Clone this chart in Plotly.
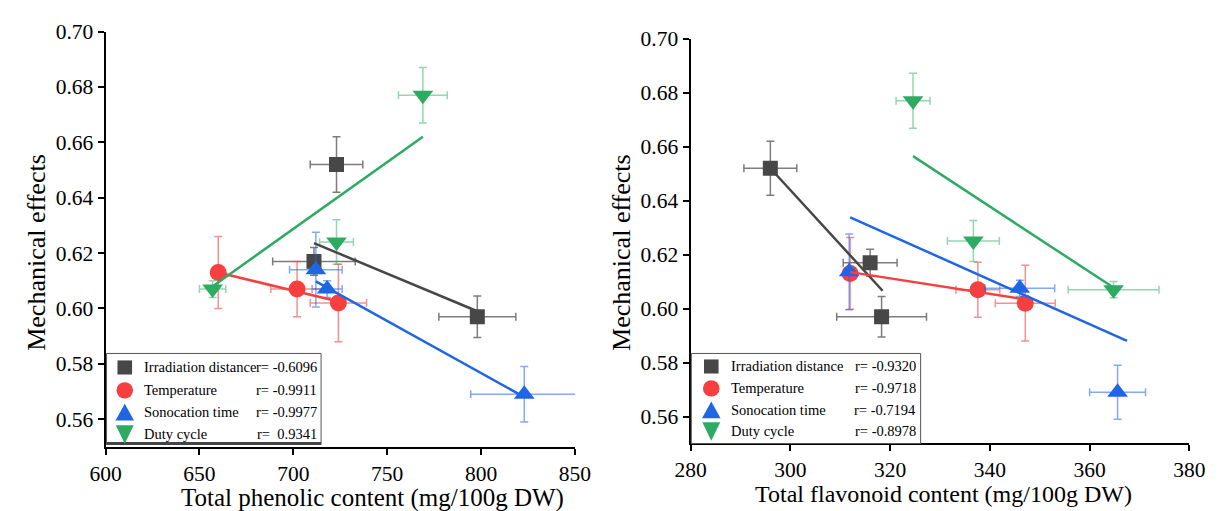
import plotly.graph_objects as go

W, H = 1220, 511
FONT = "Liberation Serif"

series_names = ["Irradiation distance", "Temperature", "Sonocation time", "Duty cycle"]

# ---- Left panel: total phenolic content ----
tpc_irr_x = [723, 711, 798]
tpc_irr_y = [0.652, 0.617, 0.597]
tpc_irr_xerr = [14, 22, 20.5]
tpc_irr_yerr = [0.010, 0.005, 0.0075]

tpc_temp_x = [660, 702, 724]
tpc_temp_y = [0.613, 0.607, 0.602]
tpc_temp_xerr = [3, 14, 15]
tpc_temp_yerr = [0.013, 0.010, 0.014]

tpc_sono_x = [712, 718, 823]
tpc_sono_y = [0.614, 0.607, 0.569]
tpc_sono_xerr = [14, 8, 28.5]
tpc_sono_yerr = [0.0135, 0.003, 0.010]

tpc_duty_x = [657, 723, 769]
tpc_duty_y = [0.607, 0.624, 0.677]
tpc_duty_xerr = [7, 9, 13]
tpc_duty_yerr = [0.003, 0.008, 0.010]

tpc_fit_irr_x = [711, 798]
tpc_fit_irr_y = [0.6236, 0.599]
tpc_fit_temp_x = [660, 724]
tpc_fit_temp_y = [0.6130, 0.6025]
tpc_fit_sono_x = [712, 823]
tpc_fit_sono_y = [0.6098, 0.5680]
tpc_fit_duty_x = [656, 769]
tpc_fit_duty_y = [0.6075, 0.6620]

tpc_r = ["r= -0.6096", "r= -0.9911", "r= -0.9977", "r=  0.9341"]

# ---- Right panel: total flavonoid content ----
tfc_irr_x = [296, 316, 318.3]
tfc_irr_y = [0.652, 0.617, 0.597]
tfc_irr_xerr = [5.3, 5.4, 9]
tfc_irr_yerr = [0.010, 0.005, 0.0075]

tfc_temp_x = [312, 337.6, 347.1]
tfc_temp_y = [0.613, 0.607, 0.602]
tfc_temp_xerr = [1, 4.4, 6]
tfc_temp_yerr = [0.0133, 0.0102, 0.014]

tfc_sono_x = [311.8, 346, 365.6]
tfc_sono_y = [0.6136, 0.6075, 0.569]
tfc_sono_xerr = [1, 7, 5.6]
tfc_sono_yerr = [0.014, 0.003, 0.010]

tfc_duty_x = [324.6, 336.7, 364.8]
tfc_duty_y = [0.677, 0.625, 0.607]
tfc_duty_xerr = [3.4, 5.2, 9.1]
tfc_duty_yerr = [0.0102, 0.0076, 0.003]

tfc_fit_irr_x = [296, 318.5]
tfc_fit_irr_y = [0.652, 0.6066]
tfc_fit_temp_x = [312, 347.5]
tfc_fit_temp_y = [0.6135, 0.6033]
tfc_fit_sono_x = [312, 367.5]
tfc_fit_sono_y = [0.6338, 0.588]
tfc_fit_duty_x = [324.6, 365]
tfc_fit_duty_y = [0.6565, 0.6075]

tfc_r = ["r= -0.9320", "r= -0.9718", "r= -0.7194", "r= -0.8978"]

# ---- styles ----
marker_colors = ["#474747", "#f5403f", "#1f66e6", "#2eab62"]
err_colors = ["rgba(80,80,80,0.75)", "rgba(240,70,70,0.6)", "rgba(30,100,230,0.55)", "rgba(46,171,98,0.5)"]
symbols = ["square", "circle", "triangle-up", "triangle-down"]
sizes = [15, 17, 18, 18]


def px(x):
    return x / W


def py(y):
    return 1 - y / H


fig = go.Figure()

panels = [
    dict(xa="x", ya="y",
         pts=[(tpc_irr_x, tpc_irr_y, tpc_irr_xerr, tpc_irr_yerr),
              (tpc_temp_x, tpc_temp_y, tpc_temp_xerr, tpc_temp_yerr),
              (tpc_sono_x, tpc_sono_y, tpc_sono_xerr, tpc_sono_yerr),
              (tpc_duty_x, tpc_duty_y, tpc_duty_xerr, tpc_duty_yerr)],
         fits=[(tpc_fit_irr_x, tpc_fit_irr_y), (tpc_fit_temp_x, tpc_fit_temp_y),
               (tpc_fit_sono_x, tpc_fit_sono_y), (tpc_fit_duty_x, tpc_fit_duty_y)]),
    dict(xa="x2", ya="y2",
         pts=[(tfc_irr_x, tfc_irr_y, tfc_irr_xerr, tfc_irr_yerr),
              (tfc_temp_x, tfc_temp_y, tfc_temp_xerr, tfc_temp_yerr),
              (tfc_sono_x, tfc_sono_y, tfc_sono_xerr, tfc_sono_yerr),
              (tfc_duty_x, tfc_duty_y, tfc_duty_xerr, tfc_duty_yerr)],
         fits=[(tfc_fit_irr_x, tfc_fit_irr_y), (tfc_fit_temp_x, tfc_fit_temp_y),
               (tfc_fit_sono_x, tfc_fit_sono_y), (tfc_fit_duty_x, tfc_fit_duty_y)]),
]

for p in panels:
    for i, (xs, ys, xe, ye) in enumerate(p["pts"]):
        fig.add_trace(go.Scatter(
            x=xs, y=ys, mode="markers", name=series_names[i], showlegend=False,
            xaxis=p["xa"], yaxis=p["ya"],
            marker=dict(symbol=symbols[i], size=sizes[i], color=marker_colors[i], line=dict(width=0)),
            error_x=dict(type="data", array=xe, color=err_colors[i], thickness=1.5, width=4),
            error_y=dict(type="data", array=ye, color=err_colors[i], thickness=1.5, width=4),
        ))
    for i, (fx, fy) in enumerate(p["fits"]):
        fig.add_trace(go.Scatter(
            x=fx, y=fy, mode="lines", showlegend=False, xaxis=p["xa"], yaxis=p["ya"],
            line=dict(color=marker_colors[i], width=2.5),
        ))

axis_common = dict(
    showline=True, linecolor="black", linewidth=2, mirror=False,
    ticks="outside", ticklen=6, tickwidth=2, tickcolor="black",
    showgrid=False, zeroline=False,
    tickfont=dict(family=FONT, size=21.5, color="black"),
)

fig.update_layout(
    width=W, height=H,
    margin=dict(l=0, r=0, t=0, b=0),
    paper_bgcolor="white", plot_bgcolor="white",
    showlegend=False,
    font=dict(family=FONT, color="black"),
    xaxis=dict(domain=[px(92), px(574)], range=[600, 850], dtick=50, tick0=600, anchor="y", **axis_common),
    yaxis=dict(domain=[py(445.5), py(21)], range=[0.55, 0.70], tickvals=[0.56, 0.58, 0.60, 0.62, 0.64, 0.66, 0.68, 0.70],
               tickformat=".2f", anchor="x", **axis_common),
    xaxis2=dict(domain=[px(692.7), px(1205)], range=[280, 380], dtick=20, tick0=280, anchor="y2", **axis_common),
    yaxis2=dict(domain=[py(442), py(28.3)], range=[0.55, 0.70], tickvals=[0.56, 0.58, 0.60, 0.62, 0.64, 0.66, 0.68, 0.70],
                tickformat=".2f", anchor="x2", **axis_common),
)

annotations = []
shapes = []

# axis titles
annotations.append(dict(text="Total phenolic content (mg/100g DW)", x=px(366), y=py(497.5), xref="paper", yref="paper",
                        showarrow=False, xanchor="center", yanchor="middle", font=dict(family=FONT, size=25)))
annotations.append(dict(text="Total flavonoid content (mg/100g DW)", x=px(952), y=py(494), xref="paper", yref="paper",
                        showarrow=False, xanchor="center", yanchor="middle", font=dict(family=FONT, size=24)))
annotations.append(dict(text="Mechanical effects", x=px(21.7), y=py(247), xref="paper", yref="paper", textangle=-90,
                        showarrow=False, xanchor="center", yanchor="middle", font=dict(family=FONT, size=26)))
annotations.append(dict(text="Mechanical effects", x=px(621.5), y=py(247), xref="paper", yref="paper", textangle=-90,
                        showarrow=False, xanchor="center", yanchor="middle", font=dict(family=FONT, size=26)))

# legend boxes
legends = [
    dict(box=(93, 350, 313.3, 443), rows=[364.3, 387.7, 410, 432.3], mx=111.7, tx=129.3, rx=310.7, r=tpc_r, thick=True),
    dict(box=(693.5, 350, 929, 442), rows=[363.3, 385.7, 407.7, 429.3], mx=714, tx=732.3, rx=926.7, r=tfc_r, thick=False),
]

for lg in legends:
    x0, y0, x1, y1 = lg["box"]
    shapes.append(dict(type="rect", xref="paper", yref="paper", x0=px(x0), y0=py(y1), x1=px(x1), y1=py(y0),
                       line=dict(color="#555555", width=1), fillcolor="white", layer="above"))
    if lg["thick"]:
        shapes.append(dict(type="line", xref="paper", yref="paper", x0=px(x0), y0=py(y1 - 1), x1=px(x1), y1=py(y1 - 1),
                           line=dict(color="#444444", width=3), layer="above"))
    for i, ry in enumerate(lg["rows"]):
        mx = lg["mx"]
        col = marker_colors[i]
        if i == 0:
            shapes.append(dict(type="rect", xref="paper", yref="paper", x0=px(mx - 7.5), x1=px(mx + 7.5),
                               y0=py(ry + 7.2), y1=py(ry - 7.2), fillcolor=col, line=dict(width=0), layer="above"))
        elif i == 1:
            shapes.append(dict(type="circle", xref="paper", yref="paper", x0=px(mx - 8.5), x1=px(mx + 8.5),
                               y0=py(ry + 8.4), y1=py(ry - 8.4), fillcolor=col, line=dict(width=0), layer="above"))
        elif i == 2:
            path = "M {} {} L {} {} L {} {} Z".format(px(mx - 9.5), py(ry + 8.5), px(mx + 9.5), py(ry + 8.5), px(mx), py(ry - 8.5))
            shapes.append(dict(type="path", xref="paper", yref="paper", path=path, fillcolor=col, line=dict(width=0), layer="above"))
        else:
            path = "M {} {} L {} {} L {} {} Z".format(px(mx - 9.2), py(ry - 9), px(mx + 9.2), py(ry - 9), px(mx), py(ry + 10))
            shapes.append(dict(type="path", xref="paper", yref="paper", path=path, fillcolor=col, line=dict(width=0), layer="above"))
        annotations.append(dict(text=series_names[i], x=px(lg["tx"]), y=py(ry), xref="paper", yref="paper",
                                showarrow=False, xanchor="left", yanchor="middle", font=dict(family=FONT, size=14.5)))
        annotations.append(dict(text=lg["r"][i].replace("  ", "&nbsp; "), x=px(lg["rx"]), y=py(ry), xref="paper", yref="paper",
                                showarrow=False, xanchor="right", yanchor="middle", font=dict(family=FONT, size=14.5)))

fig.update_layout(annotations=annotations, shapes=shapes)

fig.write_html("out.html")
